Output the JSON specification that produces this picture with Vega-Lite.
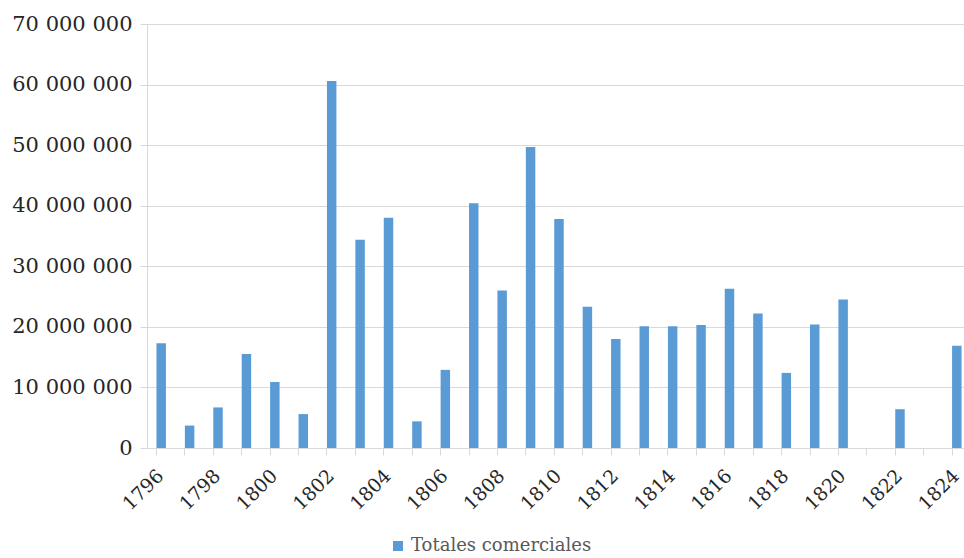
{
  "$schema": "https://vega.github.io/schema/vega-lite/v6.json",
  "width": 817,
  "height": 424,
  "autosize": "none",
  "padding": {"left": 147, "top": 24, "right": 0, "bottom": 110},
  "background": "white",
  "data": {
    "values": [
      {"year": 1796, "value": 17300000, "serie": "Totales comerciales"},
      {"year": 1797, "value": 3700000, "serie": "Totales comerciales"},
      {"year": 1798, "value": 6700000, "serie": "Totales comerciales"},
      {"year": 1799, "value": 15500000, "serie": "Totales comerciales"},
      {"year": 1800, "value": 10900000, "serie": "Totales comerciales"},
      {"year": 1801, "value": 5600000, "serie": "Totales comerciales"},
      {"year": 1802, "value": 60600000, "serie": "Totales comerciales"},
      {"year": 1803, "value": 34400000, "serie": "Totales comerciales"},
      {"year": 1804, "value": 38000000, "serie": "Totales comerciales"},
      {"year": 1805, "value": 4400000, "serie": "Totales comerciales"},
      {"year": 1806, "value": 12900000, "serie": "Totales comerciales"},
      {"year": 1807, "value": 40400000, "serie": "Totales comerciales"},
      {"year": 1808, "value": 26000000, "serie": "Totales comerciales"},
      {"year": 1809, "value": 49700000, "serie": "Totales comerciales"},
      {"year": 1810, "value": 37800000, "serie": "Totales comerciales"},
      {"year": 1811, "value": 23300000, "serie": "Totales comerciales"},
      {"year": 1812, "value": 18000000, "serie": "Totales comerciales"},
      {"year": 1813, "value": 20100000, "serie": "Totales comerciales"},
      {"year": 1814, "value": 20100000, "serie": "Totales comerciales"},
      {"year": 1815, "value": 20300000, "serie": "Totales comerciales"},
      {"year": 1816, "value": 26300000, "serie": "Totales comerciales"},
      {"year": 1817, "value": 22200000, "serie": "Totales comerciales"},
      {"year": 1818, "value": 12400000, "serie": "Totales comerciales"},
      {"year": 1819, "value": 20400000, "serie": "Totales comerciales"},
      {"year": 1820, "value": 24500000, "serie": "Totales comerciales"},
      {"year": 1821, "value": 0, "serie": "Totales comerciales"},
      {"year": 1822, "value": 6400000, "serie": "Totales comerciales"},
      {"year": 1823, "value": 0, "serie": "Totales comerciales"},
      {"year": 1824, "value": 16900000, "serie": "Totales comerciales"}
    ]
  },
  "mark": {"type": "bar"},
  "encoding": {
    "x": {
      "field": "year",
      "type": "ordinal",
      "scale": {"paddingInner": 0.667, "paddingOuter": 0.333, "range": [0, 824]},
      "axis": {
        "title": null,
        "labelAngle": -45,
        "labelFont": "DejaVu Serif",
        "labelFontSize": 19,
        "labelColor": "#262626",
        "labelExpr": "datum.value % 2 == 0 ? datum.label : ''",
        "bandPosition": 0,
        "labelOffset": -7,
        "labelPadding": 11,
        "tickColor": "#d9d9d9",
        "tickSize": 7,
        "domainColor": "#d9d9d9",
        "labelOverlap": false
      }
    },
    "y": {
      "field": "value",
      "type": "quantitative",
      "scale": {"domain": [0, 70000000]},
      "axis": {
        "title": null,
        "values": [0, 10000000, 20000000, 30000000, 40000000, 50000000, 60000000, 70000000],
        "labelExpr": "replace(format(datum.value, ','), regexp(',', 'g'), ' ')",
        "labelFont": "DejaVu Serif",
        "labelFontSize": 21,
        "labelColor": "#262626",
        "labelPadding": 8,
        "tickColor": "#d9d9d9",
        "tickSize": 7,
        "domainColor": "#d9d9d9",
        "gridColor": "#d9d9d9",
        "grid": true
      }
    },
    "color": {
      "field": "serie",
      "type": "nominal",
      "scale": {"range": ["#5b9bd5"]},
      "legend": {
        "title": null,
        "orient": "none",
        "legendX": 242,
        "legendY": 513,
        "symbolType": "square",
        "symbolSize": 100,
        "symbolStrokeWidth": 0,
        "labelFont": "DejaVu Serif",
        "labelFontSize": 18,
        "labelLimit": 0,
        "labelColor": "#595959"
      }
    }
  },
  "config": {"view": {"stroke": null}}
}
